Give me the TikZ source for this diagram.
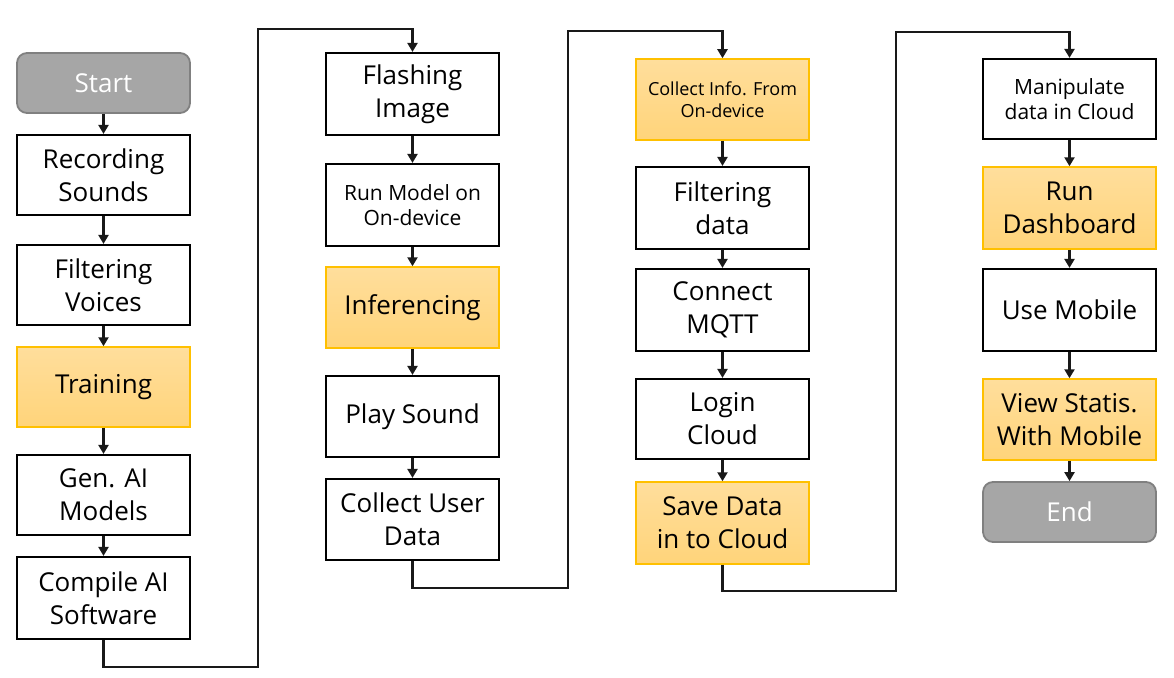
\documentclass[tikz,border=0pt]{standalone}
\usepackage{fontspec}
\setmainfont{Open Sans}
\usetikzlibrary{arrows.meta}
\definecolor{orbrd}{HTML}{FFC000}
\definecolor{ortop}{HTML}{FFDE9C}
\definecolor{orbot}{HTML}{FFD47A}
\definecolor{gfill}{HTML}{A6A6A6}
\definecolor{gbrd}{HTML}{808080}
\newcommand\bx[7]{\node[#2, minimum width={#5-#3}, minimum height={#6-#4}] (#1) at ({(#3+#5)/2},{(#4+#6)/2}) {#7};}
\tikzset{
  base/.style={align=center, inner sep=0pt, font=\fontsize{26}{33}\selectfont},
  plain/.style={base, draw=black, line width=2.2pt, fill=white},
  orange/.style={base, draw=orbrd, line width=1.5pt, top color=ortop, bottom color=orbot},
  term/.style={base, draw=gbrd, line width=1.8pt, fill=gfill, rounded corners=10pt, text=white},
  small/.style={font=\fontsize{21}{25}\selectfont},
  tiny/.style={font=\fontsize{18}{22}\selectfont},
  arr/.style={line width=2.2pt, draw=black!90, -{Triangle[length=9pt,width=10pt]}}
}
\begin{document}
\begin{tikzpicture}[x=1pt,y=-1pt]
\useasboundingbox (0,0) rectangle (1174,677);
% column 1
\bx{start}{term}{17}{53}{190}{113}{Start}
\bx{rec}{plain}{17}{135}{190}{215}{Recording\\Sounds}
\bx{filt}{plain}{17}{245}{190}{325}{Filtering\\Voices}
\bx{train}{orange}{17}{347}{190}{427}{Training}
\bx{gen}{plain}{17}{455}{190}{535}{Gen. AI\\Models}
\bx{comp}{plain}{17}{557}{190}{639}{Compile AI\\Software}
% column 2
\bx{flash}{plain}{326}{53}{499}{135}{Flashing\\Image}
\bx{runm}{plain,small}{326}{164}{499}{246}{Run Model on\\On-device}
\bx{inf}{orange}{326}{267}{499}{348}{Inferencing}
\bx{play}{plain}{326}{376}{499}{457}{Play Sound}
\bx{coll}{plain}{326}{479}{499}{560}{Collect User\\Data}
% column 3
\bx{info}{orange,tiny}{636}{59}{809}{140}{Collect Info. From\\On-device}
\bx{fdata}{plain}{636}{167}{809}{249}{Filtering\\data}
\bx{mqtt}{plain}{636}{269}{809}{351}{Connect\\MQTT}
\bx{login}{plain}{636}{379}{809}{459}{Login\\Cloud}
\bx{save}{orange}{636}{482}{809}{564}{Save Data\\in to Cloud}
% column 4
\bx{manip}{plain,small}{983}{59}{1156}{139}{Manipulate\\data in Cloud}
\bx{dash}{orange}{983}{167}{1156}{249}{Run\\Dashboard}
\bx{mob}{plain}{983}{269}{1156}{351}{Use Mobile}
\bx{view}{orange}{983}{379}{1156}{460}{View Statis.\\With Mobile}
\bx{end}{term}{983}{482}{1156}{542}{End}
% arrows within columns
\draw[arr] (start) -- (rec);
\draw[arr] (rec) -- (filt);
\draw[arr] (filt) -- (train);
\draw[arr] (train) -- (gen);
\draw[arr] (gen) -- (comp);
\draw[arr] (flash) -- (runm);
\draw[arr] (runm) -- (inf);
\draw[arr] (inf) -- (play);
\draw[arr] (play) -- (coll);
\draw[arr] (info) -- (fdata);
\draw[arr] (fdata) -- (mqtt);
\draw[arr] (mqtt) -- (login);
\draw[arr] (login) -- (save);
\draw[arr] (manip) -- (dash);
\draw[arr] (dash) -- (mob);
\draw[arr] (mob) -- (view);
\draw[arr] (view) -- (end);
% column links
\coordinate (j1) at (258,667);
\coordinate (j2) at (258,29);
\coordinate (j3) at (568,588);
\coordinate (j4) at (568,31);
\coordinate (j5) at (896,591);
\coordinate (j6) at (896,32);
\draw[arr] (comp.south) |- (j1) -- (j2) -| (flash.north);
\draw[arr] (coll.south) |- (j3) -- (j4) -| (info.north);
\draw[arr] (save.south) |- (j5) -- (j6) -| (manip.north);
\end{tikzpicture}
\end{document}
